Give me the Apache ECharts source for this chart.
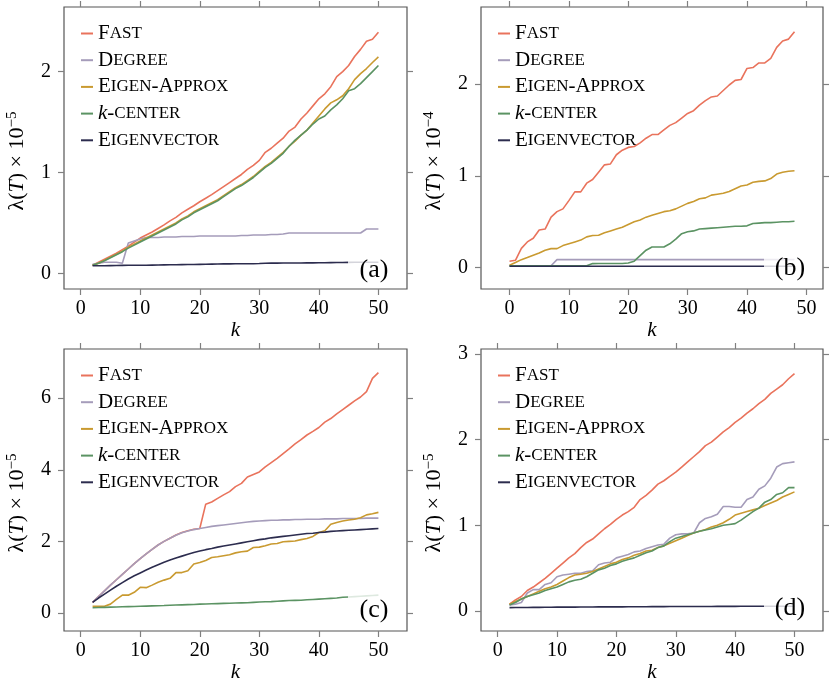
<!DOCTYPE html>
<html>
<head>
<meta charset="utf-8">
<script src="https://cdn.jsdelivr.net/npm/echarts@6.0.0/dist/echarts.min.js"></script>
<style>
	html, body { margin: 0; padding: 0; background: #fff; }
	#chart { width: 830px; height: 678px; }
</style>
</head>
<body>
<div id="chart"></div>
<script>
// k 取值
var kRange = [2, 3, 4, 5, 6, 7, 8, 9, 10, 11, 12, 13, 14, 15, 16, 17, 18, 19, 20, 21, 22, 23, 24, 25, 26,
	27, 28, 29, 30, 31, 32, 33, 34, 35, 36, 37, 38, 39, 40, 41, 42, 43, 44, 45, 46, 47, 48, 49, 50];
var kRangeB = [0, 1, 2, 3, 4, 5, 6, 7, 8, 9, 10, 11, 12, 13, 14, 15, 16, 17, 18, 19, 20, 21, 22, 23, 24,
	25, 26, 27, 28, 29, 30, 31, 32, 33, 34, 35, 36, 37, 38, 39, 40, 41, 42, 43, 44, 45, 46, 47, 48];

var methods = ['Fast', 'Degree', 'Eigen-Approx', 'k-center', 'Eigenvector'];
var colors = ['#e9735c', '#a59cba', '#c99a30', '#5b9363', '#2c2c4e'];
var panelLabels = ['(a)', '(b)', '(c)', '(d)'];
var exponents = ['−5', '−4', '−5', '−5'];
var xTicks = [0, 10, 20, 30, 40, 50];
var yTicksA = [0, 1, 2];
var yTicksB = [0, 1, 2];
var yTicksC = [0, 2, 4, 6];
var yTicksD = [0, 1, 2, 3];

// (a)
var fastA = [0.08, 0.11, 0.14, 0.17, 0.2, 0.235, 0.27, 0.31, 0.35, 0.38, 0.41, 0.445, 0.48, 0.52, 0.555, 0.6, 0.635, 0.67, 0.71, 0.745, 0.78, 0.82, 0.86, 0.9,
	0.94, 0.98, 1.03, 1.07, 1.12, 1.2, 1.24, 1.29, 1.34, 1.41, 1.45, 1.53, 1.59, 1.66, 1.73, 1.78, 1.85, 1.95, 2.0, 2.06, 2.15, 2.22, 2.3, 2.32, 2.39];
var degreeA = [0.09, 0.1, 0.11, 0.11, 0.11, 0.1, 0.3, 0.32, 0.34, 0.355, 0.355, 0.355, 0.36, 0.36, 0.36, 0.365, 0.365, 0.365, 0.37, 0.37, 0.37, 0.37, 0.37, 0.37,
	0.37, 0.375, 0.375, 0.38, 0.38, 0.38, 0.385, 0.385, 0.39, 0.4, 0.4, 0.4, 0.4, 0.4, 0.4, 0.4, 0.4, 0.4, 0.4, 0.4, 0.4, 0.4, 0.44, 0.44, 0.44];
var approxA = [0.08, 0.1, 0.13, 0.16, 0.19, 0.22, 0.26, 0.29, 0.32, 0.35, 0.38, 0.41, 0.44, 0.47, 0.5, 0.54, 0.57, 0.61, 0.64, 0.67, 0.7, 0.73, 0.77, 0.81,
	0.85, 0.88, 0.92, 0.96, 1.01, 1.06, 1.1, 1.15, 1.2, 1.26, 1.31, 1.37, 1.42, 1.49, 1.56, 1.63, 1.69, 1.72, 1.76, 1.83, 1.92, 1.98, 2.03, 2.09, 2.145];
var centerA = [0.08, 0.1, 0.125, 0.155, 0.185, 0.215, 0.25, 0.28, 0.31, 0.34, 0.37, 0.4, 0.43, 0.46, 0.49, 0.53, 0.56, 0.6, 0.63, 0.66, 0.69, 0.72, 0.76, 0.8,
	0.84, 0.87, 0.91, 0.95, 1.0, 1.05, 1.09, 1.14, 1.19, 1.26, 1.32, 1.37, 1.42, 1.48, 1.53, 1.56, 1.62, 1.67, 1.73, 1.81, 1.83, 1.88, 1.94, 2.0, 2.06];
var vectorA = [0.075, 0.075, 0.076, 0.077, 0.078, 0.079, 0.08, 0.08, 0.08, 0.081, 0.082, 0.083, 0.084, 0.085, 0.086, 0.087, 0.088, 0.088, 0.089, 0.09, 0.092, 0.093, 0.094, 0.094,
	0.095, 0.095, 0.096, 0.096, 0.097, 0.1, 0.101, 0.101, 0.102, 0.102, 0.103, 0.103, 0.104, 0.104, 0.105, 0.105, 0.106, 0.107, 0.108, 0.109, 0.11, 0.11, 0.11, 0.11, 0.11];

// (b)
var fastB = [0.07, 0.08, 0.21, 0.28, 0.32, 0.41, 0.42, 0.55, 0.61, 0.64, 0.73, 0.825, 0.825, 0.92, 0.96, 1.04, 1.12, 1.13, 1.23, 1.28, 1.31, 1.32, 1.36, 1.41,
	1.45, 1.45, 1.5, 1.55, 1.58, 1.63, 1.68, 1.71, 1.77, 1.82, 1.86, 1.87, 1.93, 1.99, 2.04, 2.05, 2.17, 2.18, 2.23, 2.23, 2.28, 2.4, 2.47, 2.49, 2.57];
var degreeB = [0.02, 0.02, 0.02, 0.02, 0.02, 0.02, 0.02, 0.02, 0.087, 0.087, 0.087, 0.087, 0.087, 0.087, 0.087, 0.087, 0.087, 0.087, 0.087, 0.087, 0.087, 0.087, 0.087, 0.087,
	0.087, 0.087, 0.087, 0.087, 0.087, 0.087, 0.087, 0.087, 0.087, 0.087, 0.087, 0.087, 0.087, 0.087, 0.087, 0.087, 0.087, 0.087, 0.087, 0.087, 0.087, 0.087, 0.087, 0.087, 0.087];
var approxB = [0.025, 0.055, 0.087, 0.11, 0.135, 0.16, 0.19, 0.207, 0.207, 0.24, 0.26, 0.28, 0.3, 0.335, 0.35, 0.353, 0.38, 0.4, 0.42, 0.44, 0.47, 0.5, 0.52, 0.55,
	0.57, 0.59, 0.61, 0.62, 0.64, 0.67, 0.7, 0.72, 0.75, 0.76, 0.79, 0.8, 0.81, 0.83, 0.86, 0.89, 0.9, 0.93, 0.94, 0.945, 0.97, 1.02, 1.04, 1.05, 1.055];
var centerB = [0.02, 0.02, 0.02, 0.02, 0.02, 0.02, 0.02, 0.02, 0.02, 0.02, 0.02, 0.02, 0.02, 0.02, 0.044, 0.045, 0.045, 0.045, 0.045, 0.045, 0.05, 0.07, 0.13, 0.19,
	0.225, 0.225, 0.225, 0.26, 0.31, 0.37, 0.39, 0.4, 0.42, 0.425, 0.43, 0.435, 0.44, 0.445, 0.45, 0.45, 0.455, 0.48, 0.485, 0.49, 0.49, 0.495, 0.5, 0.5, 0.505];
var vectorB = [0.015, 0.015, 0.015, 0.015, 0.015, 0.015, 0.015, 0.015, 0.015, 0.015, 0.015, 0.015, 0.015, 0.015, 0.015, 0.015, 0.015, 0.015, 0.015, 0.015, 0.015, 0.015, 0.015, 0.015,
	0.015, 0.015, 0.015, 0.015, 0.015, 0.015, 0.015, 0.015, 0.015, 0.015, 0.015, 0.015, 0.015, 0.015, 0.015, 0.015, 0.015, 0.015, 0.015, 0.015, 0.015, 0.015, 0.015, 0.015, 0.015];

// (c)
var fastC = [0.3, 0.46, 0.62, 0.78, 0.93, 1.08, 1.23, 1.38, 1.52, 1.65, 1.78, 1.9, 2.0, 2.09, 2.18, 2.25, 2.3, 2.34, 2.36, 3.04, 3.1, 3.2, 3.3, 3.39,
	3.53, 3.62, 3.8, 3.87, 3.94, 4.08, 4.2, 4.32, 4.45, 4.58, 4.72, 4.84, 4.97, 5.07, 5.18, 5.33, 5.43, 5.56, 5.68, 5.8, 5.92, 6.03, 6.18, 6.55, 6.71];
var degreeC = [0.3, 0.46, 0.62, 0.78, 0.93, 1.08, 1.23, 1.38, 1.52, 1.65, 1.78, 1.9, 2.0, 2.09, 2.17, 2.24, 2.29, 2.33, 2.36, 2.39, 2.42, 2.44, 2.46, 2.48,
	2.5, 2.52, 2.54, 2.56, 2.57, 2.58, 2.59, 2.59, 2.6, 2.6, 2.61, 2.61, 2.62, 2.62, 2.62, 2.63, 2.63, 2.63, 2.64, 2.64, 2.64, 2.64, 2.65, 2.65, 2.65];
var approxC = [0.19, 0.19, 0.19, 0.25, 0.38, 0.5, 0.5, 0.58, 0.72, 0.71, 0.78, 0.86, 0.92, 0.97, 1.13, 1.13, 1.18, 1.37, 1.41, 1.47, 1.55, 1.57, 1.6, 1.63,
	1.68, 1.71, 1.73, 1.83, 1.84, 1.88, 1.93, 1.94, 1.99, 2.0, 2.01, 2.05, 2.08, 2.14, 2.25, 2.3, 2.48, 2.53, 2.57, 2.6, 2.62, 2.66, 2.74, 2.77, 2.81];
var centerC = [0.15, 0.155, 0.16, 0.165, 0.17, 0.175, 0.18, 0.185, 0.19, 0.195, 0.2, 0.205, 0.21, 0.22, 0.225, 0.23, 0.235, 0.24, 0.25, 0.255, 0.26, 0.265, 0.27, 0.275,
	0.28, 0.285, 0.29, 0.3, 0.31, 0.315, 0.32, 0.33, 0.34, 0.35, 0.355, 0.36, 0.37, 0.38, 0.39, 0.4, 0.41, 0.42, 0.44, 0.45, 0.46, 0.47, 0.48, 0.49, 0.5];
var vectorC = [0.3, 0.42, 0.53, 0.64, 0.75, 0.85, 0.95, 1.04, 1.12, 1.2, 1.28, 1.35, 1.42, 1.48, 1.54, 1.59, 1.64, 1.69, 1.73, 1.77, 1.8, 1.84, 1.87, 1.9,
	1.93, 1.96, 1.99, 2.02, 2.05, 2.07, 2.1, 2.12, 2.14, 2.16, 2.18, 2.2, 2.22, 2.23, 2.25, 2.26, 2.28, 2.29, 2.3, 2.31, 2.32, 2.33, 2.34, 2.35, 2.36];

// (d)
var fastD = [0.08, 0.13, 0.17, 0.24, 0.28, 0.33, 0.38, 0.44, 0.5, 0.56, 0.62, 0.67, 0.74, 0.8, 0.84, 0.9, 0.96, 1.01, 1.07, 1.12, 1.16, 1.21, 1.3, 1.35,
	1.41, 1.48, 1.52, 1.57, 1.62, 1.68, 1.74, 1.8, 1.86, 1.93, 1.97, 2.03, 2.09, 2.14, 2.2, 2.25, 2.31, 2.36, 2.42, 2.47, 2.54, 2.59, 2.64, 2.71, 2.77];
var degreeD = [0.07, 0.08, 0.1, 0.21, 0.25, 0.25, 0.31, 0.33, 0.4, 0.42, 0.43, 0.44, 0.44, 0.46, 0.47, 0.54, 0.56, 0.57, 0.62, 0.64, 0.66, 0.69, 0.7, 0.73,
	0.75, 0.77, 0.78, 0.85, 0.89, 0.9, 0.9, 0.91, 1.03, 1.08, 1.1, 1.13, 1.22, 1.22, 1.21, 1.21, 1.3, 1.33, 1.42, 1.46, 1.55, 1.68, 1.72, 1.73, 1.74];
var approxD = [0.08, 0.11, 0.14, 0.17, 0.2, 0.23, 0.26, 0.28, 0.31, 0.35, 0.39, 0.42, 0.43, 0.44, 0.46, 0.49, 0.52, 0.55, 0.57, 0.6, 0.62, 0.65, 0.67, 0.7,
	0.71, 0.74, 0.76, 0.79, 0.82, 0.85, 0.88, 0.91, 0.93, 0.95, 0.98, 1.0, 1.03, 1.07, 1.12, 1.14, 1.16, 1.18, 1.2, 1.23, 1.26, 1.29, 1.33, 1.36, 1.39];
var centerD = [0.07, 0.1, 0.14, 0.17, 0.19, 0.21, 0.24, 0.26, 0.28, 0.31, 0.34, 0.36, 0.37, 0.4, 0.44, 0.48, 0.5, 0.53, 0.55, 0.58, 0.6, 0.62, 0.65, 0.68,
	0.7, 0.74, 0.76, 0.81, 0.85, 0.87, 0.89, 0.91, 0.93, 0.945, 0.96, 0.98, 1.0, 1.01, 1.02, 1.06, 1.11, 1.16, 1.2, 1.27, 1.3, 1.36, 1.38, 1.44, 1.44];
var vectorD = [0.04, 0.041, 0.042, 0.042, 0.043, 0.043, 0.044, 0.044, 0.045, 0.045, 0.046, 0.046, 0.047, 0.047, 0.047, 0.048, 0.048, 0.048, 0.049, 0.049, 0.05, 0.05, 0.05, 0.05,
	0.051, 0.051, 0.051, 0.052, 0.052, 0.052, 0.052, 0.053, 0.053, 0.053, 0.053, 0.054, 0.054, 0.054, 0.054, 0.055, 0.055, 0.055, 0.055, 0.055, 0.055, 0.055, 0.055, 0.055, 0.055];

(function () {
	var serif = '"Liberation Serif", "DejaVu Serif", serif';
	var panels = [
		{ k: kRange, vals: [fastA, degreeA, approxA, centerA, vectorA], xMin: -2.8, xMax: 54.8, yMin: -0.155, yMax: 2.64, yTicks: yTicksA },
		{ k: kRangeB, vals: [fastB, degreeB, approxB, centerB, vectorB], xMin: -4.8, xMax: 52.8, yMin: -0.233, yMax: 2.84, yTicks: yTicksB },
		{ k: kRange, vals: [fastC, degreeC, approxC, centerC, vectorC], xMin: -2.8, xMax: 54.8, yMin: -0.5, yMax: 7.37, yTicks: yTicksC },
		{ k: kRange, vals: [fastD, degreeD, approxD, centerD, vectorD], xMin: -2.8, xMax: 54.8, yMin: -0.233, yMax: 3.057, yTicks: yTicksD }
	];
	// 每个子图的位置
	var boxes = [
		{ left: 64, top: 7, width: 343, height: 282 },
		{ left: 481, top: 7, width: 342, height: 282 },
		{ left: 64, top: 349, width: 343, height: 282 },
		{ left: 481, top: 349, width: 342, height: 282 }
	];

	var grid = [], xAxis = [], yAxis = [], series = [], legend = [], graphic = [];

	// 刻度：朝外，灰色
	function ticks(values) {
		return { show: true, inside: false, length: 6, customValues: values, lineStyle: { color: '#808080', width: 1.2 } };
	}

	var smallCaps = {
		'Fast': '{c|F}{s|AST}',
		'Degree': '{c|D}{s|EGREE}',
		'Eigen-Approx': '{c|E}{s|IGEN}{c|-A}{s|PPROX}',
		'k-center': '{i|k}{c|-}{s|CENTER}',
		'Eigenvector': '{c|E}{s|IGENVECTOR}'
	};

	for (var p = 0; p < panels.length; p++) {
		var pn = panels[p];
		var b = boxes[p];
		grid.push({
			left: b.left, top: b.top, width: b.width, height: b.height,
			show: true, borderColor: '#555', borderWidth: 1.2,
			outerBoundsMode: 'none'
		});
		// 下 / 上 x 轴
		xAxis.push({
			type: 'value', gridIndex: p, position: 'bottom', min: pn.xMin, max: pn.xMax,
			axisLine: { show: false, onZero: false },
			axisTick: ticks(xTicks),
			axisLabel: { customValues: xTicks, color: '#000', fontFamily: serif, fontSize: 20, margin: 10 },
			splitLine: { show: false },
			name: 'k', nameLocation: 'middle', nameGap: 27,
			nameTextStyle: { fontFamily: serif, fontStyle: 'italic', fontSize: 21, color: '#000' }
		});
		xAxis.push({
			type: 'value', gridIndex: p, position: 'top', min: pn.xMin, max: pn.xMax,
			axisLine: { show: false, onZero: false },
			axisTick: ticks(xTicks),
			axisLabel: { show: false, customValues: xTicks },
			splitLine: { show: false }
		});
		yAxis.push({
			type: 'value', gridIndex: p, position: 'left', min: pn.yMin, max: pn.yMax,
			axisLine: { show: false, onZero: false },
			axisTick: ticks(pn.yTicks),
			axisLabel: { customValues: pn.yTicks, color: '#000', fontFamily: serif, fontSize: 20, margin: 13 },
			splitLine: { show: false },
			name: '{n|λ(}{it|T}{n|) × 10}{sup|' + exponents[p] + '}',
			nameLocation: 'middle', nameGap: 34, nameRotate: 90,
			nameTextStyle: {
				padding: [0, 26, 0, 0],
				rich: {
					n: { fontFamily: serif, fontSize: 22, color: '#000' },
					it: { fontFamily: serif, fontSize: 22, fontStyle: 'italic', color: '#000' },
					sup: { fontFamily: serif, fontSize: 15, color: '#000', padding: [0, 0, 10, 0] }
				}
			}
		});
		yAxis.push({
			type: 'value', gridIndex: p, position: 'right', min: pn.yMin, max: pn.yMax,
			axisLine: { show: false, onZero: false },
			axisTick: ticks(pn.yTicks),
			axisLabel: { show: false, customValues: pn.yTicks },
			splitLine: { show: false }
		});

		for (var m = 0; m < methods.length; m++) {
			var pts = [];
			for (var i = 0; i < pn.k.length; i++) {
				pts.push([pn.k[i], pn.vals[m][i]]);
			}
			series.push({
				name: methods[m],
				type: 'line',
				xAxisIndex: p * 2,
				yAxisIndex: p * 2,
				data: pts,
				showSymbol: false,
				symbol: 'none',
				color: colors[m],
				lineStyle: { color: colors[m], width: 1.6 }
			});
		}

		legend.push({
			data: methods,
			orient: 'vertical',
			left: b.left + 12,
			top: b.top + 11,
			itemWidth: 12,
			itemHeight: 2,
			itemGap: 5.7,
			icon: 'rect',
			selectedMode: false,
			formatter: function (name) {
				return smallCaps[name];
			},
			textStyle: {
				rich: {
					c: { fontFamily: serif, fontSize: 21, color: '#000', lineHeight: 20 },
					s: { fontFamily: serif, fontSize: 17, color: '#000', lineHeight: 20 },
					i: { fontFamily: serif, fontSize: 21, fontStyle: 'italic', color: '#000', lineHeight: 20 }
				}
			}
		});

		// 右下角的标签，半透明白底
		var bx = b.left + b.width - 59;
		var by = (p < 2 ? 252 : 592) - (p % 2 === 1 ? 2 : 0);
		graphic.push({
			type: 'group',
			z: 100,
			children: [
				{
					type: 'rect',
					shape: { x: bx, y: by, width: 56, height: 36 },
					style: { fill: 'rgba(255,255,255,0.8)' },
					z: 100
				},
				{
					type: 'text',
					x: bx + 26, y: by + 18,
					style: {
						text: panelLabels[p], fontFamily: serif, fontSize: 26, fill: '#000',
						textAlign: 'center', textVerticalAlign: 'middle'
					},
					z: 101
				}
			]
		});
	}

	var myChart = echarts.init(document.getElementById('chart'));
	var option = {
		animation: false,
		backgroundColor: '#fff',
		grid: grid,
		xAxis: xAxis,
		yAxis: yAxis,
		legend: legend,
		series: series,
		graphic: graphic
	};
	myChart.setOption(option);
	window.addEventListener('resize', function () {
		myChart.resize();
	});
})();
</script>
</body>
</html>
